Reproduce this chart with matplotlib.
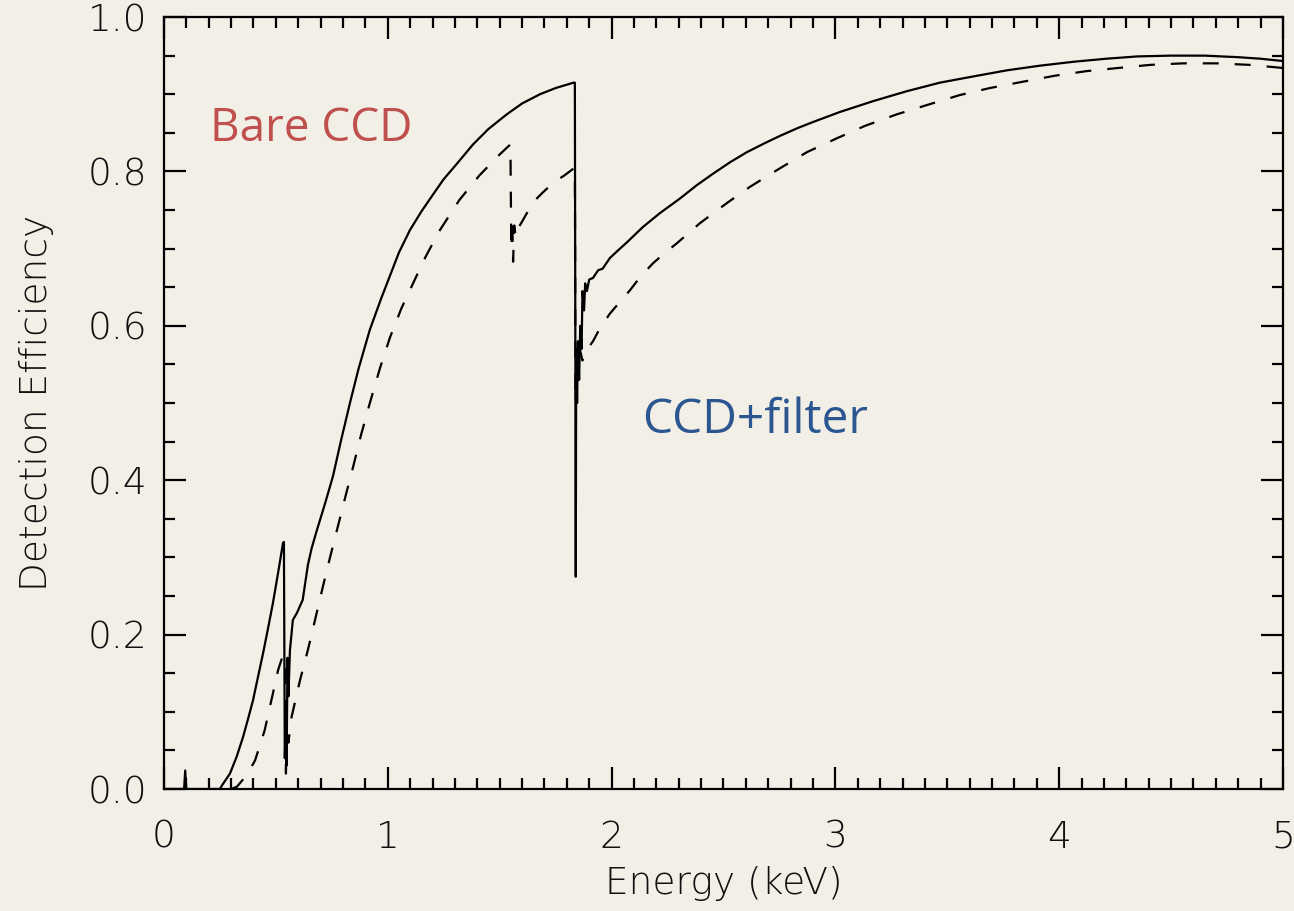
import matplotlib
matplotlib.use("Agg")
import matplotlib.pyplot as plt
from matplotlib.ticker import MultipleLocator

# Detection efficiency of the bare CCD (solid curve)
energy_bare = [0.00, 0.08, 0.09, 0.095, 0.10, 0.25, 0.26, 0.295, 0.325, 0.353,
               0.375, 0.398, 0.420, 0.443, 0.465, 0.487, 0.510, 0.532, 0.536,
               0.540, 0.545, 0.548, 0.552, 0.556, 0.563, 0.576, 0.594, 0.620,
               0.643, 0.660, 0.683, 0.720, 0.755, 0.790, 0.831, 0.870, 0.920,
               0.970, 1.010, 1.050, 1.099, 1.150, 1.202, 1.250, 1.309, 1.381,
               1.450, 1.532, 1.600, 1.680, 1.750, 1.830, 1.836, 1.838, 1.840,
               1.842, 1.846, 1.850, 1.855, 1.860, 1.866, 1.870, 1.877, 1.882,
               1.890, 1.900, 1.917, 1.940, 1.960, 1.993, 2.030, 2.068, 2.140,
               2.216, 2.306, 2.380, 2.453, 2.530, 2.605, 2.680, 2.752, 2.830,
               2.900, 3.020, 3.168, 3.320, 3.467, 3.615, 3.767, 3.914, 4.062,
               4.210, 4.350, 4.500, 4.650, 4.800, 4.900, 5.000]
eff_bare = [0.000, 0.000, 0.000, 0.024, 0.000, 0.000, 0.005, 0.020, 0.042, 0.067,
            0.090, 0.115, 0.145, 0.176, 0.208, 0.241, 0.280, 0.319, 0.320,
            0.040, 0.100, 0.030, 0.170, 0.120, 0.180, 0.219, 0.228, 0.245,
            0.290, 0.312, 0.335, 0.370, 0.405, 0.450, 0.500, 0.545, 0.595,
            0.635, 0.665, 0.695, 0.724, 0.748, 0.770, 0.790, 0.810, 0.835,
            0.855, 0.874, 0.888, 0.900, 0.908, 0.915, 0.915, 0.600, 0.275,
            0.570, 0.500, 0.580, 0.530, 0.600, 0.570, 0.645, 0.620, 0.655,
            0.645, 0.660, 0.662, 0.672, 0.674, 0.688, 0.698, 0.708, 0.728,
            0.746, 0.765, 0.782, 0.797, 0.812, 0.825, 0.836, 0.846, 0.856,
            0.864, 0.877, 0.891, 0.904, 0.915, 0.923, 0.931, 0.937, 0.942,
            0.946, 0.949, 0.950, 0.950, 0.948, 0.946, 0.943]

# Detection efficiency of the CCD behind the filter (dashed curve)
energy_filt = [0.300, 0.326, 0.370, 0.407, 0.450, 0.480, 0.510, 0.530, 0.542,
               0.545, 0.550, 0.556, 0.570, 0.608, 0.643, 0.675, 0.710, 0.742,
               0.777, 0.810, 0.845, 0.880, 0.920, 0.965, 1.010, 1.060, 1.113,
               1.170, 1.233, 1.320, 1.410, 1.500, 1.548, 1.552, 1.556, 1.560,
               1.565, 1.572, 1.580, 1.604, 1.649, 1.690, 1.738, 1.790, 1.836,
               1.839, 1.845, 1.850, 1.858, 1.870, 1.880, 1.917, 1.950, 1.993,
               2.040, 2.082, 2.130, 2.185, 2.240, 2.292, 2.395, 2.515, 2.618,
               2.752, 2.873, 3.007, 3.132, 3.275, 3.409, 3.557, 3.690, 3.834,
               3.981, 4.124, 4.263, 4.406, 4.553, 4.705, 4.853, 5.000]
eff_filt = [0.000, 0.003, 0.018, 0.037, 0.076, 0.115, 0.154, 0.172, 0.170,
            0.020, 0.080, 0.060, 0.093, 0.141, 0.180, 0.219, 0.262, 0.300,
            0.340, 0.378, 0.417, 0.458, 0.500, 0.545, 0.585, 0.622, 0.655,
            0.690, 0.724, 0.763, 0.795, 0.822, 0.835, 0.700, 0.740, 0.683,
            0.730, 0.715, 0.725, 0.737, 0.760, 0.772, 0.785, 0.795, 0.805,
            0.500, 0.560, 0.530, 0.570, 0.555, 0.565, 0.580, 0.598, 0.616,
            0.632, 0.646, 0.664, 0.681, 0.695, 0.707, 0.733, 0.759, 0.780,
            0.804, 0.825, 0.843, 0.859, 0.874, 0.886, 0.899, 0.908, 0.916,
            0.924, 0.930, 0.934, 0.938, 0.940, 0.940, 0.938, 0.934]

x_ticks = [0, 1, 2, 3, 4, 5]
x_tick_labels = ["0", "1", "2", "3", "4", "5"]
y_ticks = [0.0, 0.2, 0.4, 0.6, 0.8, 1.0]
y_tick_labels = ["0.0", "0.2", "0.4", "0.6", "0.8", "1.0"]

bg = "#f2efe7"
ink = "#111111"
plt.rcParams["lines.scale_dashes"] = False

fig = plt.figure(figsize=(12.94, 9.11), dpi=100, facecolor=bg)
ax = fig.add_axes([0.1267, 0.1339, 0.8648, 0.8474], facecolor=bg)

ax.plot(energy_bare, eff_bare, color="black", lw=1.6, solid_joinstyle="round")
ax.plot(energy_filt, eff_filt, color="black", lw=1.6, dashes=(11.5, 11.5))

ax.set_xlim(0, 5)
ax.set_ylim(0, 1.0)
ax.set_xticks(x_ticks)
ax.set_xticklabels(x_tick_labels)
ax.set_yticks(y_ticks)
ax.set_yticklabels(y_tick_labels)
ax.xaxis.set_minor_locator(MultipleLocator(0.1))
ax.yaxis.set_minor_locator(MultipleLocator(0.05))

for lab in ax.get_xticklabels() + ax.get_yticklabels():
    lab.set_fontfamily(["DejaVu Sans"])
    lab.set_fontsize(27)
    lab.set_fontweight("light")
    lab.set_color(ink)

ax.tick_params(which="major", direction="in", length=16, width=1.6,
               top=True, right=True)
ax.tick_params(which="minor", direction="in", length=8, width=1.6,
               top=True, right=True)
ax.tick_params(axis="x", which="major", pad=22)
ax.tick_params(axis="y", which="major", pad=12)
for sp in ax.spines.values():
    sp.set_linewidth(1.6)

ax.set_xlabel("Energy (keV)", fontsize=27, family=["DejaVu Sans"],
              fontweight="light", color=ink, labelpad=8)
ax.set_ylabel("Detection Efficiency", fontsize=27, family=["DejaVu Sans"],
              fontweight="light", color=ink, labelpad=24)

ax.text(0.206, 0.855, "Bare CCD", color="#c0504d", fontsize=33,
        family=["Open Sans", "DejaVu Sans"], ha="left", va="center")
ax.text(2.136, 0.478, "CCD+filter", color="#2c5690", fontsize=34.5,
        family=["Open Sans", "DejaVu Sans"], ha="left", va="center")

fig.savefig("out.png", dpi=100, facecolor=bg)
